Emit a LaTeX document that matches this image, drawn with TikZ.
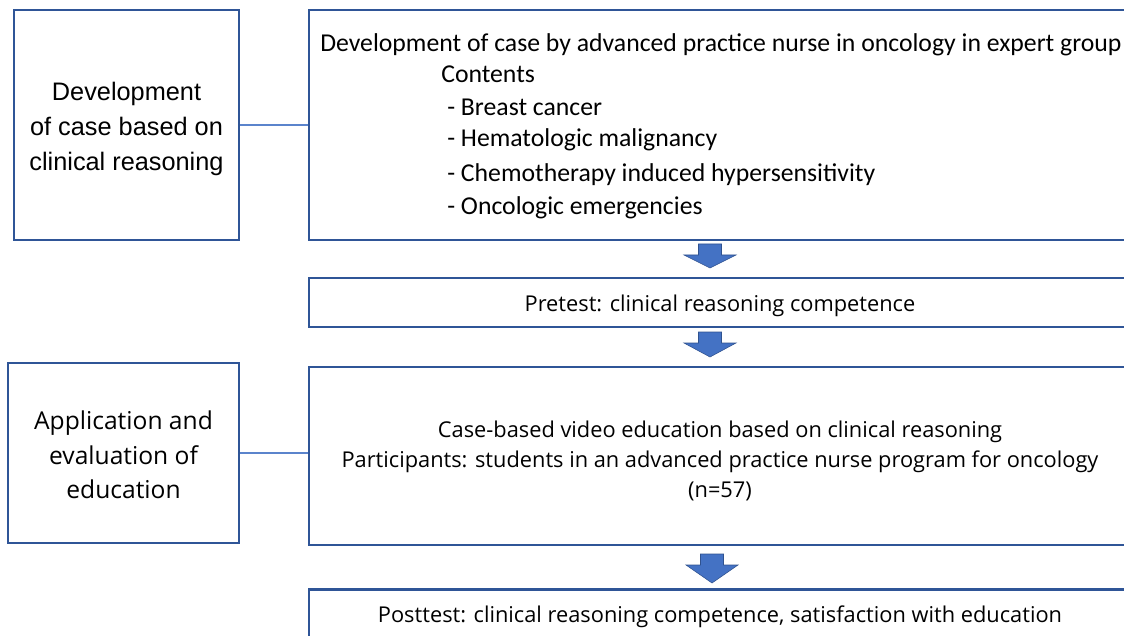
\documentclass[tikz,border=0pt]{standalone}
\usepackage{fontspec}
\setmainfont{Open Sans}
\newfontfamily\calfont{Carlito}
\newfontfamily\arialfont{Liberation Sans}
\usetikzlibrary{positioning}

\definecolor{boxline}{HTML}{2F5597}
\definecolor{linkline}{HTML}{5B84CC}
\definecolor{arrowfill}{HTML}{4472C4}
\definecolor{arrowedge}{HTML}{2F528F}

\tikzset{
  stagebox/.style={draw=boxline, line width=1.5pt, minimum width=#1, align=center, inner sep=0pt},
  flowbox/.style={draw=boxline, line width=1.5pt, minimum width=20.55cm, inner sep=0pt},
  link/.style={draw=linkline, line width=0.9pt},
  downarrow/.pic={
    \filldraw[fill=arrowfill, draw=arrowedge, line width=0.4pt]
      (-11.5,0) -- (11.5,0) -- (11.5,11) -- (26,11) -- (0,#1) -- (-26,11) -- (-11.5,11) -- cycle;
  }
}

\begin{document}
\begin{tikzpicture}[x=0.025cm, y=-0.025cm]
  \useasboundingbox (0,0) rectangle (1124,636);
  \clip (0,0) rectangle (1124,636);

  % left column: the two phases
  \node[stagebox=5.625cm, minimum height=5.75cm] (devphase) at (126.5,125) {};
  \node[align=center, font=\arialfont\fontsize{18}{25}\selectfont] (devtext) at (126.5,129)
    {Development\\of case based on\\clinical reasoning};
  \node[stagebox=5.775cm, minimum height=4.5cm] (appphase) at (123.5,453) {};
  \node[align=center, font=\fontsize{17.5}{24.5}\selectfont] (apptext) at (123.5,455)
    {Application and\\evaluation of\\education};

  % right column: the steps
  \node[flowbox, minimum height=5.75cm] (casedev) at (720,125) {};
  \node[flowbox, minimum height=1.225cm] (pretest) at (720,302.5) {};
  \node[flowbox, minimum height=4.45cm] (videoedu) at (720,456) {};
  \node[flowbox, minimum height=1.225cm] (posttest) at (720,614) {};

  % text of the case development step
  \begin{scope}[every node/.style={anchor=west, inner sep=0pt, font=\calfont\fontsize{18.3}{20}\selectfont}]
    \node (casetitle) at (320,45) {Development of case by advanced practice nurse in oncology in expert group};
    \node (contents) at (441,74) {Contents};
    \node (topic1) at (447,107) {- Breast cancer};
    \node (topic2) at (447,140) {- Hematologic malignancy};
    \node (topic3) at (447,175) {- Chemotherapy induced hypersensitivity};
    \node (topic4) at (447,208) {- Oncologic emergencies};
  \end{scope}

  \node[font=\fontsize{15.5}{20}\selectfont] (pretesttext) at (720,306) {Pretest: clinical reasoning competence};
  \node[align=center, font=\fontsize{15.5}{21.5}\selectfont] (videotext) at (720,461)
    {Case-based video education based on clinical reasoning\\
     Participants: students in an advanced practice nurse program for oncology\\
     (n=57)};
  \node[font=\fontsize{15.5}{20}\selectfont] (posttesttext) at (720,617)
    {Posttest: clinical reasoning competence, satisfaction with education};

  % links between phase and step
  \draw[link] (devphase.east) -- (devphase.east -| casedev.west);
  \draw[link] (appphase.east) -- (appphase.east -| videoedu.west);

  % block arrows between the steps
  \pic at (710,244) {downarrow=24};
  \pic at (710,332) {downarrow=25};
  \pic at (712,554) {downarrow=29};
\end{tikzpicture}
\end{document}
